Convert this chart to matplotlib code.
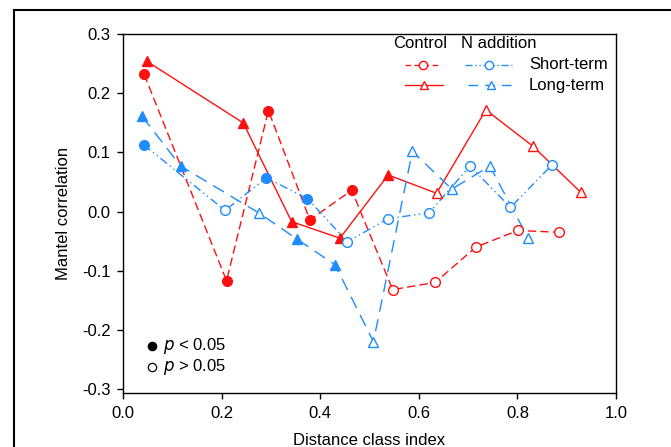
import matplotlib
matplotlib.use("Agg")
import matplotlib.pyplot as plt
from matplotlib.lines import Line2D

plt.rcParams['font.family'] = ['Liberation Sans', 'DejaVu Sans']
plt.rcParams['font.size'] = 12

RED = '#ff1010'
BLUE = '#1e8cff'

# Mantel correlograms, significant points (p < 0.05) flagged with 1
ctrl_short_x = [0.043, 0.210, 0.295, 0.379, 0.464, 0.547, 0.633, 0.716, 0.801, 0.884]
ctrl_short_y = [0.232, -0.117, 0.171, -0.014, 0.036, -0.132, -0.120, -0.060, -0.032, -0.035]
ctrl_short_sig = [1, 1, 1, 1, 1, 0, 0, 0, 0, 0]

ctrl_long_x = [0.049, 0.244, 0.342, 0.440, 0.538, 0.636, 0.736, 0.831, 0.928]
ctrl_long_y = [0.254, 0.150, -0.017, -0.045, 0.062, 0.031, 0.172, 0.111, 0.033]
ctrl_long_sig = [1, 1, 1, 1, 1, 0, 0, 0, 0]

n_short_x = [0.042, 0.207, 0.291, 0.374, 0.455, 0.538, 0.621, 0.704, 0.786, 0.870]
n_short_y = [0.113, 0.002, 0.057, 0.022, -0.051, -0.012, -0.002, 0.077, 0.007, 0.079]
n_short_sig = [1, 0, 1, 1, 0, 0, 0, 0, 0, 0]

n_long_x = [0.039, 0.117, 0.275, 0.352, 0.430, 0.508, 0.587, 0.667, 0.744, 0.822]
n_long_y = [0.161, 0.077, -0.002, -0.046, -0.090, -0.220, 0.102, 0.038, 0.077, -0.045]
n_long_sig = [1, 1, 0, 1, 1, 0, 0, 0, 0, 0]

x_ticks = [0.0, 0.2, 0.4, 0.6, 0.8, 1.0]
y_ticks = [-0.3, -0.2, -0.1, 0.0, 0.1, 0.2, 0.3]

# (x, y, sig, color, dash pattern, marker)
series = [
    (ctrl_short_x, ctrl_short_y, ctrl_short_sig, RED, (6, 3), 'o'),
    (ctrl_long_x, ctrl_long_y, ctrl_long_sig, RED, None, '^'),
    (n_short_x, n_short_y, n_short_sig, BLUE, (6, 2.5, 1, 2.5, 1, 2.5), 'o'),
    (n_long_x, n_long_y, n_long_sig, BLUE, (9, 5.5), '^'),
]

fig = plt.figure(figsize=(6.71, 4.47), dpi=100)
ax = fig.add_axes([123 / 671, 1 - 393 / 447, 493 / 671, (393 - 34.3) / 447])


def draw_series(ax, xs, ys, sig, color, dashes, marker):
    if dashes is None:
        ax.plot(xs, ys, color=color, lw=1.0, zorder=2)
    else:
        ax.plot(xs, ys, color=color, lw=1.0, dashes=dashes, zorder=2)
    ms = 7.5 if marker == '^' else 7
    for x, y, s in zip(xs, ys, sig):
        face = color if s else 'white'
        ax.plot(x, y, marker=marker, ms=ms, mfc=face, mec=color, mew=1.0,
                linestyle='none', zorder=3)


for xs, ys, sig, color, dashes, marker in series:
    draw_series(ax, xs, ys, sig, color, dashes, marker)

ax.set_xlim(0, 1.0)
ax.set_ylim(-0.307, 0.3)
ax.set_xticks(x_ticks)
ax.set_xticklabels(['%.1f' % v for v in x_ticks])
ax.set_yticks(y_ticks)
ax.set_yticklabels(['%.1f' % v for v in y_ticks])
ax.tick_params(direction='out', length=4, width=1.0, pad=5, labelsize=12)
for sp in ax.spines.values():
    sp.set_linewidth(1.0)
ax.set_xlabel('Distance class index', fontsize=12, labelpad=9)
ax.set_ylabel('Mantel correlation', fontsize=12, labelpad=8)

# line-type key, upper right
ta = ax.transAxes
inv = ta.inverted()


def to_ax(px, py):
    # pixel position (from top-left) to axes fraction
    return inv.transform((px, 447 - py))


def key_line(x0, x1, y, color, dashes, marker):
    (ax0, ay), (ax1, _) = to_ax(x0, y), to_ax(x1, y)
    kw = dict(color=color, lw=1.0, transform=ta, clip_on=False)
    if dashes is not None:
        kw['dashes'] = dashes
    ax.add_line(Line2D([ax0, ax1], [ay, ay], **kw))
    mx = (ax0 + ax1) / 2
    ax.add_line(Line2D([mx], [ay], marker=marker, ms=6, mfc='white', mec=color,
                       mew=1.0, transform=ta, clip_on=False, linestyle='none'))


fig.canvas.draw()
key_line(405, 441, 64.5, RED, (4, 2.5), 'o')
key_line(405, 443, 85, RED, None, '^')
key_line(465, 512, 64.5, BLUE, (5, 2, 1, 2, 1, 2), 'o')
key_line(468, 514, 85, BLUE, (7, 5), '^')

fx, fy = to_ax(420, 43.5)
ax.text(fx, fy, 'Control', transform=ta, ha='center', va='center', fontsize=12)
fx, fy = to_ax(499, 43.5)
ax.text(fx, fy, 'N addition', transform=ta, ha='center', va='center', fontsize=12)
fx, fy = to_ax(529, 64.5)
ax.text(fx, fy, 'Short-term', transform=ta, ha='left', va='center', fontsize=12)
fx, fy = to_ax(529, 85)
ax.text(fx, fy, 'Long-term', transform=ta, ha='left', va='center', fontsize=12)

# significance key, lower left
for py, face, label in [(346, 'black', r'$p$ < 0.05'), (366.7, 'white', r'$p$ > 0.05')]:
    mx, my = to_ax(151.7, py)
    ax.add_line(Line2D([mx], [my], marker='o', ms=6, mfc=face, mec='black', mew=0.9,
                       transform=ta, clip_on=False, linestyle='none'))
    tx, ty = to_ax(163, py)
    ax.text(tx, ty, label, transform=ta, ha='left', va='center', fontsize=12)

# outer panel frame
fig.add_artist(Line2D([14 / 671, 14 / 671], [0, 1 - 10 / 447], color='black', lw=1.5,
                      transform=fig.transFigure))
fig.add_artist(Line2D([14 / 671, 1], [1 - 10 / 447, 1 - 10 / 447], color='black', lw=1.5,
                      transform=fig.transFigure))

fig.savefig('out.png', dpi=100)
